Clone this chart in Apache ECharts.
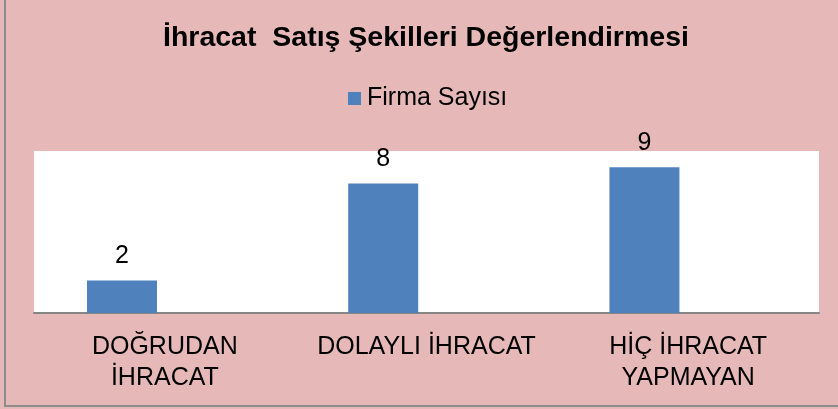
<!DOCTYPE html>
<html>
<head>
<meta charset="utf-8">
<script src="https://cdn.jsdelivr.net/npm/echarts@6/dist/echarts.min.js"></script>
<style>
  html, body { margin: 0; padding: 0; }
  #chart { width: 838px; height: 409px; }
</style>
</head>
<body>
<div id="chart"></div>
<script>
// data
const categories = ['DOĞRUDAN\nİHRACAT', 'DOLAYLI İHRACAT', 'HİÇ İHRACAT\nYAPMAYAN']
const firmaSayisi = [2, 8, 9]
const seriesName = 'Firma Sayısı'
const titleText = 'İhracat  Satış Şekilleri Değerlendirmesi'

const chart = echarts.init(document.getElementById('chart'))
const font = 'Liberation Sans, Arial, sans-serif'

// bars in the original sit ~43px left of their label bands, so they get their own value axis
const barPoints = firmaSayisi.map((v, i) => [i, v])

const option = {
  backgroundColor: '#E6B9B8',
  animation: false,
  textStyle: { fontFamily: font },
  title: {
    text: titleText,
    left: 158,
    top: 19,
    textStyle: { fontSize: 28.5, fontWeight: 'bold', color: '#000', fontFamily: font }
  },
  legend: {
    data: [seriesName],
    top: 86,
    left: 348,
    padding: 0,
    itemWidth: 13,
    itemHeight: 13,
    icon: 'rect',
    textStyle: { fontSize: 25, color: '#000', fontFamily: font, padding: [0, 0, 0, 1] }
  },
  graphic: [
    {
      type: 'rect',
      shape: { x: 5, y: -5, width: 850, height: 411 },
      style: { fill: 'none', stroke: '#8c8c8c', lineWidth: 2 },
      silent: true
    }
  ],
  grid: [
    // white plot area + axis labels
    { left: 34, right: 19, top: 151, bottom: 96, show: true, backgroundColor: '#fff', borderWidth: 0 },
    // full-width grid for the bars
    { left: 0, right: 0, top: 151, bottom: 96 }
  ],
  xAxis: [
    {
      type: 'category',
      gridIndex: 0,
      data: categories,
      axisTick: { show: false },
      axisLine: { show: true, lineStyle: { color: '#868686', width: 2 } },
      axisLabel: {
        margin: 19,
        color: '#000',
        fontSize: 25,
        lineHeight: 31,
        interval: 0,
        fontFamily: font
      }
    },
    {
      type: 'value',
      gridIndex: 1,
      min: -0.467,
      max: 2.741,
      show: false
    }
  ],
  yAxis: [
    { type: 'value', gridIndex: 0, min: 0, max: 10, show: false, splitLine: { show: false } },
    { type: 'value', gridIndex: 1, min: 0, max: 10, show: false, splitLine: { show: false } }
  ],
  series: [
    {
      name: seriesName,
      type: 'bar',
      xAxisIndex: 1,
      yAxisIndex: 1,
      barWidth: 70,
      itemStyle: { color: '#4F81BD' },
      label: {
        show: true,
        position: 'top',
        distance: 12,
        color: '#000',
        fontSize: 25,
        fontFamily: font,
        formatter: (p) => p.value[1]
      },
      data: barPoints
    }
  ]
}
chart.setOption(option)
</script>
</body>
</html>
